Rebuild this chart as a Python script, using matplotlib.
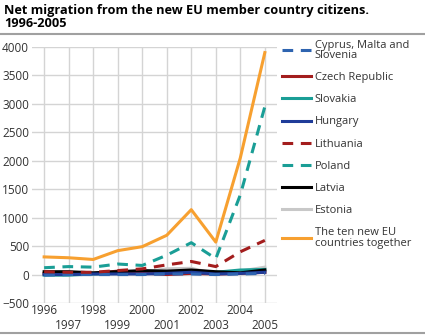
import numpy as np
import matplotlib.pyplot as plt
from matplotlib.lines import Line2D

plt.rcParams['font.family'] = ['Open Sans', 'DejaVu Sans']

# data
years = [1996, 1997, 1998, 1999, 2000, 2001, 2002, 2003, 2004, 2005]
cyprus_malta_slovenia = [-10, 0, 0, 0, 0, 10, 10, 0, 10, 20]
czech = [20, 30, 20, 60, 30, 0, 20, 10, 20, 40]
slovakia = [-10, -10, 10, 20, 20, 30, 40, 40, 80, 90]
hungary = [0, 0, 10, 10, 10, 20, 40, 10, 20, 40]
lithuania = [50, 40, 40, 70, 100, 170, 230, 140, 400, 600]
poland = [120, 140, 130, 185, 160, 340, 560, 280, 1400, 2950]
latvia = [50, 50, 30, 50, 70, 60, 80, 50, 30, 80]
estonia = [10, 10, 20, 30, 40, 100, 110, 10, 60, 130]
total = [310, 295, 265, 420, 490, 690, 1140, 570, 2050, 3900]

labels = ['Cyprus, Malta and\nSlovenia', 'Czech Republic', 'Slovakia', 'Hungary',
          'Lithuania', 'Poland', 'Latvia', 'Estonia',
          'The ten new EU\ncountries together']

fig = plt.figure(figsize=(4.25, 3.35), dpi=100)
ax = fig.add_axes([0.075, 0.0955, 0.577, 0.7645])

lw = 2.2
dash = (0, (3.5, 2.5))
ax.plot(years, estonia, color='#c8c8c8', lw=lw, zorder=3)
ax.plot(years, slovakia, color='#1a9e96', lw=lw, zorder=3)
ax.plot(years, czech, color='#a31d1d', lw=lw, zorder=3)
ax.plot(years, latvia, color='#000000', lw=lw, zorder=3)
ax.plot(years, hungary, color='#1f3c99', lw=lw, zorder=3)
ax.plot(years, cyprus_malta_slovenia, color='#2e64b0', lw=lw, ls=dash, zorder=3)
ax.plot(years, lithuania, color='#a31d1d', lw=lw, ls=dash, zorder=3)
ax.plot(years, poland, color='#1a9e96', lw=lw, ls=dash, zorder=3)
ax.plot(years, total, color='#f7a030', lw=lw, zorder=3)

ax.set_xlim(1995.5, 2005.5)
ax.set_ylim(-500, 4000)
ax.set_yticks(np.arange(-500, 4001, 500))
ax.set_xticks(years)
ax.set_xticklabels([str(y) if y % 2 == 0 else '\n' + str(y) for y in years])
ax.tick_params(length=0, labelsize=8.5, colors='#333333', pad=2)
ax.tick_params(axis='x', pad=1)
ax.grid(True, color='#d4d4d4', lw=1)
for s in ax.spines.values():
    s.set_visible(False)
ax.set_axisbelow(True)

handles = [
    Line2D([], [], color='#2e64b0', lw=lw, ls=(0, (3.5, 2.5))),
    Line2D([], [], color='#a31d1d', lw=lw),
    Line2D([], [], color='#1a9e96', lw=lw),
    Line2D([], [], color='#1f3c99', lw=lw),
    Line2D([], [], color='#a31d1d', lw=lw, ls=(0, (3.5, 2.5))),
    Line2D([], [], color='#1a9e96', lw=lw, ls=(0, (3.5, 2.5))),
    Line2D([], [], color='#000000', lw=lw),
    Line2D([], [], color='#c8c8c8', lw=lw),
    Line2D([], [], color='#f7a030', lw=lw),
]
leg = fig.legend(handles, labels, loc='upper left', bbox_to_anchor=(0.664, 0.882),
                 frameon=False, fontsize=8, handlelength=2.6, handletextpad=0.35,
                 labelspacing=1.0, borderaxespad=0, borderpad=0)
for t in leg.get_texts():
    t.set_color('#333333')
    t.set_linespacing(0.95)

fig.text(0.01, 0.988, 'Net migration from the new EU member country citizens.\n1996-2005',
         fontsize=9.2, fontweight='bold', va='top', ha='left', linespacing=1.0)
fig.add_artist(Line2D([0, 1], [0.9, 0.9], color='#a0a0a0', lw=1.5))
fig.add_artist(Line2D([0, 1], [0.005, 0.005], color='#a0a0a0', lw=1.5))

fig.savefig('out.png', dpi=100)
